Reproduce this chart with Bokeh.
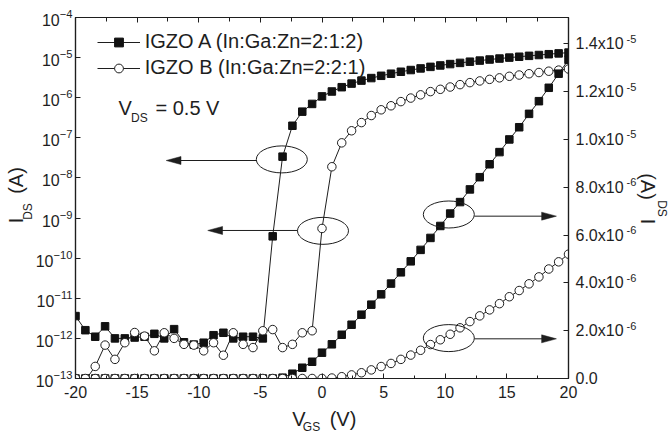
from bokeh.plotting import figure
from bokeh.models import (Range1d, LinearAxis, LinearScale, SingleIntervalTicker, LogTicker, FixedTicker,
                          Label, Legend, LegendItem, CustomJSTickFormatter)
from bokeh.embed import file_html
from bokeh.resources import INLINE

# ---------------- data ----------------
vgs = [-20.0, -19.2, -18.4, -17.6, -16.8, -16.0, -15.2, -14.4, -13.6, -12.8,
       -12.0, -11.2, -10.4, -9.6, -8.8, -8.0, -7.2, -6.4, -5.6, -4.8,
       -4.0, -3.2, -2.4, -1.6, -0.8, 0.0, 0.8, 1.6, 2.4, 3.2,
       4.0, 4.8, 5.6, 6.4, 7.2, 8.0, 8.8, 9.6, 10.4, 11.2,
       12.0, 12.8, 13.6, 14.4, 15.2, 16.0, 16.8, 17.6, 18.4, 19.2, 20.0]

ids_a = [3.6e-12, 1.6e-12, 1.1e-12, 2.0e-12, 1.0e-12, 1.0e-12, 1.05e-12, 1.1e-12, 1.3e-12, 1.0e-12,
         1.7e-12, 8.0e-13, 7.0e-13, 7.8e-13, 1.2e-12, 1.38e-12, 1.0e-12, 1.1e-12, 1.1e-12, 1.0e-12,
         3.5e-10, 3.4e-8, 2.0e-7, 4.5e-7, 7.0e-7, 1.08e-6, 1.43e-6, 1.83e-6, 2.25e-6, 2.67e-6,
         3.09e-6, 3.52e-6, 3.97e-6, 4.44e-6, 4.90e-6, 5.38e-6, 5.88e-6, 6.38e-6, 6.90e-6, 7.38e-6,
         7.91e-6, 8.42e-6, 8.96e-6, 9.47e-6, 1.00e-5, 1.051e-5, 1.107e-5, 1.16e-5, 1.216e-5, 1.275e-5, 1.333e-5]

ids_b = [6e-14, 9e-14, 2.0e-13, 6.8e-13, 3.0e-13, 7.8e-13, 1.4e-12, 1.14e-12, 4.9e-13, 1.38e-12,
         1.0e-12, 7.1e-13, 6.8e-13, 4.9e-13, 7.8e-13, 3.8e-13, 1.38e-12, 7.1e-13, 5.9e-13, 1.55e-12,
         1.66e-12, 5.9e-13, 7.1e-13, 1.38e-12, 1.55e-12, 5.5e-10, 1.9e-8, 7.5e-8, 1.5e-7, 2.4e-7,
         3.6e-7, 5.0e-7, 6.3e-7, 8.0e-7, 9.8e-7, 1.18e-6, 1.42e-6, 1.62e-6, 1.85e-6, 2.12e-6,
         2.38e-6, 2.62e-6, 2.87e-6, 3.13e-6, 3.42e-6, 3.68e-6, 3.96e-6, 4.25e-6, 4.58e-6, 4.88e-6, 5.2e-6]

label_a = "IGZO A (In:Ga:Zn=2:1:2)"
label_b = "IGZO B (In:Ga:Zn=2:2:1)"

right_ticks = [0.0, 2e-6, 4e-6, 6e-6, 8e-6, 1e-5, 1.2e-5, 1.4e-5]
right_mant = ["0.0", "2.0x10", "4.0x10", "6.0x10", "8.0x10", "1.0x10", "1.2x10", "1.4x10"]
right_exp = ["", "-6", "-6", "-6", "-6", "-5", "-5", "-5"]

# annotation anchors (data coordinates)
ell_log_x = [-3.26, 0.08]
ell_log_y = [2.9e-8, 4.8e-10]
ell_lin_x = [10.29, 10.29]
ell_lin_y = [6.86e-6, 1.69e-6]
arr_log = [(-5.32, -12.64, 2.72e-8), (-2.01, -9.27, 4.9e-10)]   # x_start, x_tip, y
arr_lin = [(12.37, 19.02, 6.79e-6), (12.37, 19.02, 1.66e-6)]

FONT = "Liberation Sans"
INK = "#1e1e1e"
FW, FH = 493, 361
LIN_MAX = 1.51e-5

p = figure(frame_width=FW, frame_height=FH,
           x_range=Range1d(-20, 20), y_range=Range1d(1e-13, 1e-4),
           y_axis_type="log", output_backend="svg", toolbar_location=None,
           min_border_left=75, min_border_top=17, min_border_right=100, min_border_bottom=55,
           background_fill_color="white", border_fill_color="white")
p.grid.visible = False
p.outline_line_color = INK
p.outline_line_width = 1.2

SHIFT = 5 * LIN_MAX / FH
p.extra_y_ranges = {"lin": Range1d(0, LIN_MAX),
                    "linx": Range1d(-SHIFT, LIN_MAX - SHIFT),
                    "ty": Range1d(0, FH)}
p.extra_y_scales = {"lin": LinearScale(), "linx": LinearScale(), "ty": LinearScale()}
p.extra_x_ranges = {"tx": Range1d(0, FW)}
p.extra_x_scales = {"tx": LinearScale()}

LOOKUP = """
    let best = 0, d = Infinity;
    for (let i = 0; i < tv.length; i++) { const e = Math.abs(tv[i] - tick); if (e < d) { d = e; best = i; } }
    return lbl[best];"""


def lookup_fmt(tvals, labels):
    return CustomJSTickFormatter(args=dict(tv=list(tvals), lbl=list(labels)), code=LOOKUP)


int_fmt = CustomJSTickFormatter(code="return tick.toFixed(0);")
blank_fmt = CustomJSTickFormatter(code="return '';")


def style_ticks(ax, tick_in=5, minor_in=3):
    ax.major_tick_in = tick_in
    ax.major_tick_out = 0
    ax.minor_tick_in = minor_in
    ax.minor_tick_out = 0
    ax.axis_line_color = INK
    ax.axis_line_width = 1.2
    ax.major_tick_line_color = INK
    ax.minor_tick_line_color = INK


# bottom axis
xa = p.xaxis[0]
xa.ticker = SingleIntervalTicker(interval=5, num_minor_ticks=2)
xa.formatter = int_fmt
style_ticks(xa)
xa.major_label_text_font = FONT
xa.major_label_text_font_size = "16px"
xa.major_label_text_color = INK
xa.major_label_standoff = 7

# top axis (ticks only)
top = LinearAxis(ticker=SingleIntervalTicker(interval=5, num_minor_ticks=2), formatter=blank_fmt,
                 major_label_text_font_size="8px", major_label_standoff=0)
style_ticks(top, 5, 4)
p.add_layout(top, "above")

# left log axis
ya = p.yaxis[0]
ya.ticker = LogTicker(desired_num_ticks=10, num_minor_ticks=0)
style_ticks(ya)
ya.minor_tick_line_color = None
ya.major_label_text_font = FONT
ya.major_label_text_font_size = "16px"
ya.major_label_text_color = INK
ya.major_label_standoff = 3

# right linear axis: mantissa labels, then exponent labels (raised by 5 px)
ra = LinearAxis(y_range_name="lin", ticker=FixedTicker(ticks=right_ticks, minor_ticks=[]),
                formatter=lookup_fmt(right_ticks, right_mant), major_label_text_font=FONT,
                major_label_text_font_size="16px", major_label_text_color=INK, major_label_standoff=7)
style_ticks(ra)
p.add_layout(ra, "right")

rexp = LinearAxis(y_range_name="linx", ticker=FixedTicker(ticks=right_ticks[1:], minor_ticks=[]),
                  formatter=lookup_fmt(right_ticks[1:], right_exp[1:]), major_label_text_font=FONT,
                  major_label_text_font_size="11px", major_label_text_color=INK, major_label_standoff=0,
                  axis_line_color=None, major_tick_line_color=None, minor_tick_line_color=None,
                  major_tick_in=0, major_tick_out=0)
p.add_layout(rexp, "right")


# ---------------- axis titles (as positioned tick labels) ----------------
def title_axis(side, rng, tvals, labels, size, standoff, vertical):
    kw = dict(ticker=FixedTicker(ticks=tvals, minor_ticks=[]), formatter=lookup_fmt(tvals, labels),
              major_label_text_font=FONT, major_label_text_font_size=f"{size}px",
              major_label_text_color=INK, major_label_standoff=standoff,
              axis_line_color=None, major_tick_line_color=None, minor_tick_line_color=None,
              major_tick_in=0, major_tick_out=0)
    if vertical:
        kw["major_label_orientation"] = "vertical"
        ax = LinearAxis(y_range_name=rng, **kw)
    else:
        ax = LinearAxis(x_range_name=rng, **kw)
    p.add_layout(ax, side)


# left: I_DS (A)
title_axis("left", "ty", [167], ["DS"], 12, -2, True)
title_axis("left", "ty", [158, 198], ["I", "(A)"], 20, -9, True)
# right: I_DS (A)
title_axis("right", "ty", [157, 192], ["I", "(A)"], 20, -3, True)
title_axis("right", "ty", [170], ["DS"], 12, -7, True)
# bottom: V_GS (V)
title_axis("below", "tx", [223.4, 267.5], ["V", "(V)"], 20, 7, False)
title_axis("below", "tx", [236], ["GS"], 12, -13, False)

# ---------------- series ----------------
la = p.line(vgs, ids_a, line_color=INK, line_width=1)
sa = p.scatter(vgs, ids_a, marker="square", size=7.5, fill_color="#111111", line_color="#111111")
lb = p.line(vgs, ids_b, line_color=INK, line_width=1)
sb = p.scatter(vgs, ids_b, marker="circle", size=8.5, fill_color="white", line_color=INK, line_width=1)

p.line(vgs, ids_a, line_color=INK, line_width=1, y_range_name="lin")
p.scatter(vgs, ids_a, marker="square", size=7.5, fill_color="#111111", line_color="#111111", y_range_name="lin")
p.line(vgs, ids_b, line_color=INK, line_width=1, y_range_name="lin")
p.scatter(vgs, ids_b, marker="circle", size=8.5, fill_color="white", line_color=INK, line_width=1,
          y_range_name="lin")

# ---------------- ellipses & arrows ----------------
p.ellipse(ell_log_x, ell_log_y, width=51, height=27, width_units="screen", height_units="screen",
          fill_color=None, line_color=INK, line_width=1)
p.ellipse(ell_lin_x, ell_lin_y, width=51, height=27, width_units="screen", height_units="screen",
          fill_color=None, line_color=INK, line_width=1, y_range_name="lin")

HEAD_V = 1.2                       # arrow head length in V
HALF_LOG = 10 ** (4 / 40.11)       # half head width on log axis (4 px)
HALF_LIN = 4 * LIN_MAX / FH        # half head width on linear axis (4 px)

p.segment([a[0] for a in arr_log], [a[2] for a in arr_log],
          [a[1] + HEAD_V * 0.5 for a in arr_log], [a[2] for a in arr_log], line_color=INK, line_width=1)
p.patches([[a[1], a[1] + HEAD_V, a[1] + HEAD_V] for a in arr_log],
          [[a[2], a[2] * HALF_LOG, a[2] / HALF_LOG] for a in arr_log],
          fill_color=INK, line_color=INK, line_width=0.5)
p.segment([a[0] for a in arr_lin], [a[2] for a in arr_lin],
          [a[1] - HEAD_V * 0.5 for a in arr_lin], [a[2] for a in arr_lin], line_color=INK, line_width=1,
          y_range_name="lin")
p.patches([[a[1], a[1] - HEAD_V, a[1] - HEAD_V] for a in arr_lin],
          [[a[2], a[2] + HALF_LIN, a[2] - HALF_LIN] for a in arr_lin],
          fill_color=INK, line_color=INK, line_width=0.5, y_range_name="lin")

# ---------------- legend ----------------
legend = Legend(items=[LegendItem(label=label_a, renderers=[la, sa]),
                       LegendItem(label=label_b, renderers=[lb, sb])],
                location=(21.7, 298.7), glyph_width=43, glyph_height=22, label_height=22,
                label_standoff=5, spacing=3, padding=0, margin=0,
                border_line_color=None, background_fill_alpha=0,
                label_text_font=FONT, label_text_font_size="20px", label_text_color=INK)
p.add_layout(legend)


# ---------------- V_DS text inside the frame ----------------
def lab(text, sx, sy, size):
    p.add_layout(Label(x=sx, y=sy, x_units="screen", y_units="screen", text=text,
                       text_font=FONT, text_font_size=f"{size}px", text_color=INK,
                       text_baseline="alphabetic", text_align="left"))


lab("V", 43, 270.7, 20)
lab("DS", 55.5, 261, 12)
lab("= 0.5 V", 80, 270.7, 20)

open("out.html", "w", encoding="utf-8").write(file_html(p, INLINE))
